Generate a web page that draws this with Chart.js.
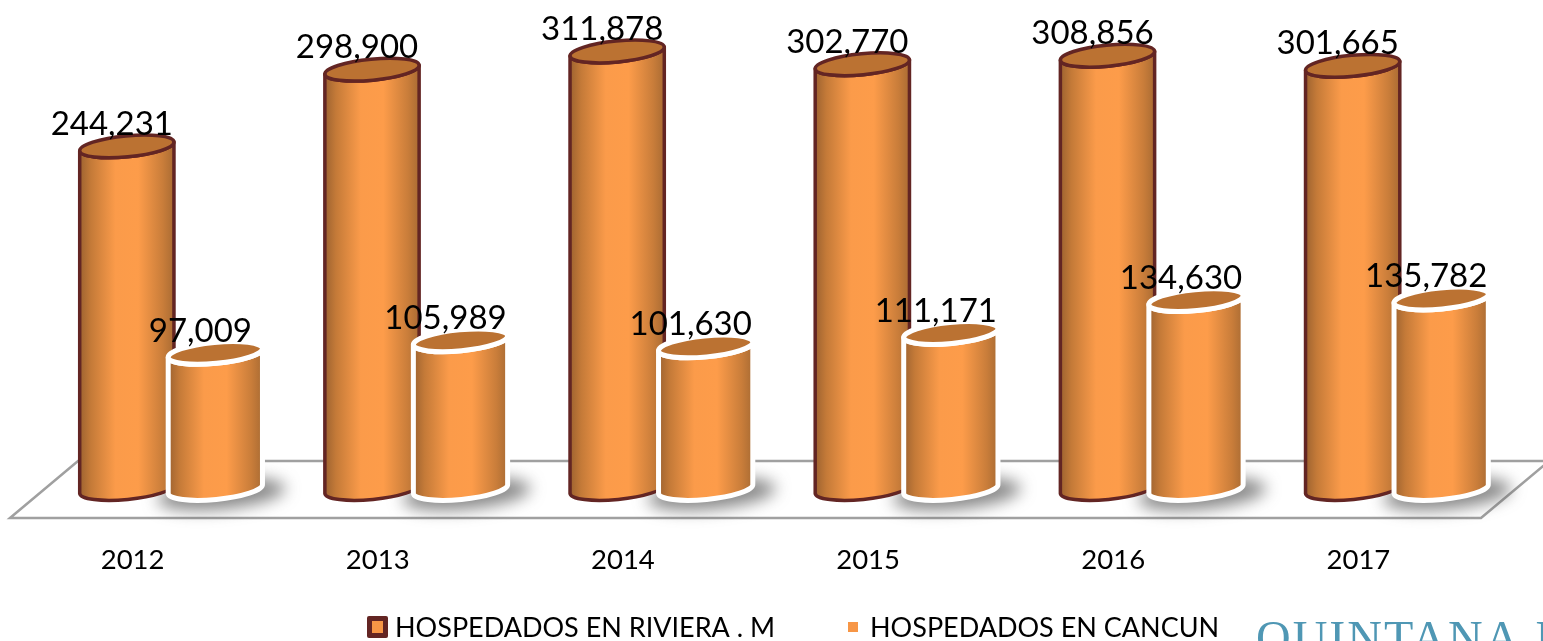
<!DOCTYPE html>
<html>
<head>
<meta charset="utf-8">
<style>html,body{margin:0;padding:0;background:#fff;overflow:hidden}#wrap{width:1543px;height:641px}</style>
<script src="https://cdn.jsdelivr.net/npm/chart.js@4"></script>
</head>
<body>
<div id="wrap"><canvas id="c" width="1543" height="641"></canvas></div>
<script>
const categories = ['2012','2013','2014','2015','2016','2017'];
const rivieraLabel = 'HOSPEDADOS EN RIVIERA . M';
const cancunLabel = 'HOSPEDADOS EN CANCUN';
const rivieraValues = [244231,298900,311878,302770,308856,301665];
const cancunValues = [97009,105989,101630,111171,134630,135782];

const FONT = 'Lato, "Open Sans", sans-serif';
const floorDepth = {x:68, y:-57};
const barDepth = {x:38.5, y:-29};
const TILT = -5.5*Math.PI/180;

function cylinder(ctx, cx, topY, baseY, rx, ry, stroke, lw){
  const cos=Math.cos(TILT), sin=Math.sin(TILT);
  const dx=rx*cos, dy=rx*sin;
  const g=ctx.createLinearGradient(cx-rx,0,cx+rx,0);
  g.addColorStop(0,'#9c6230');
  g.addColorStop(0.12,'#c47a38');
  g.addColorStop(0.38,'#fb9b4a');
  g.addColorStop(0.62,'#fd9c4a');
  g.addColorStop(0.88,'#c97d3a');
  g.addColorStop(1,'#a96b33');
  ctx.beginPath();
  ctx.moveTo(cx-dx,topY-dy);
  ctx.lineTo(cx-dx,baseY-dy);
  ctx.ellipse(cx,baseY,rx,ry,TILT,Math.PI,0,true);
  ctx.lineTo(cx+dx,topY+dy);
  ctx.ellipse(cx,topY,rx,ry,TILT,0,Math.PI,false);
  ctx.closePath();
  ctx.fillStyle=g; ctx.fill();
  ctx.lineWidth=lw; ctx.strokeStyle=stroke; ctx.lineJoin='round'; ctx.stroke();
  ctx.beginPath();
  ctx.ellipse(cx,topY,rx,ry,TILT,0,Math.PI*2);
  ctx.fillStyle='#bb7232'; ctx.fill();
  ctx.lineWidth=lw; ctx.strokeStyle=stroke; ctx.stroke();
}

const cylinderPlugin = {
  id:'cylinders',
  beforeDatasetsDraw(chart){
    const {ctx,chartArea:a,scales:{y}}=chart;
    const y0=y.getPixelForValue(0);
    ctx.save();
    ctx.beginPath();
    ctx.moveTo(a.left,y0);
    ctx.lineTo(a.left+floorDepth.x,y0+floorDepth.y);
    ctx.lineTo(a.right+floorDepth.x,y0+floorDepth.y);
    ctx.lineTo(a.right,y0);
    ctx.closePath();
    ctx.fillStyle='#fff'; ctx.fill();
    ctx.lineWidth=2.5; ctx.strokeStyle='#a0a0a0'; ctx.stroke();
    ctx.restore();
  },
  afterDatasetsDraw(chart){
    const {ctx}=chart;
    ctx.save();
    // soft floor shadow cast by the front row
    chart.getDatasetMeta(1).data.forEach(b=>{
      ctx.save();
      ctx.filter='blur(8px)';
      ctx.fillStyle='rgba(80,80,80,0.68)';
      ctx.beginPath();
      ctx.ellipse(b.x+barDepth.x+6,b.base+barDepth.y+5,b.width/2+20,15,TILT,0,Math.PI*2);
      ctx.fill();
      ctx.restore();
    });
    chart.data.datasets.forEach((ds,i)=>{
      chart.getDatasetMeta(i).data.forEach(b=>{
        cylinder(ctx,b.x+barDepth.x,b.y+barDepth.y,b.base+barDepth.y,b.width*0.535,10.5,ds.cylStroke,ds.cylWidth);
      });
    });
    ctx.font='33px '+FONT;
    ctx.fillStyle='#000'; ctx.textAlign='center'; ctx.textBaseline='middle';
    chart.data.datasets.forEach((ds,i)=>{
      chart.getDatasetMeta(i).data.forEach((b,j)=>{
        ctx.fillText(ds.data[j].toLocaleString('en-US'),b.x+barDepth.x-15,b.y+barDepth.y-22);
      });
    });
    ctx.restore();
  },
  afterDraw(chart){
    const {ctx}=chart;
    ctx.save();
    ctx.textBaseline='middle'; ctx.textAlign='left'; ctx.fillStyle='#000';
    ctx.font='27px '+FONT;
    // legend
    ctx.fillStyle='#632523';
    ctx.beginPath(); ctx.roundRect(367,616,21,22,2); ctx.fill();
    ctx.fillStyle='#f79646'; ctx.fillRect(372,621,11,12);
    ctx.fillRect(848,622,10,10);
    ctx.fillStyle='#000';
    ctx.fillText(chart.data.datasets[0].label,395,628);
    ctx.fillText(chart.data.datasets[1].label,870,628);
    // clipped logo wordmark
    ctx.font='48px "Liberation Serif", serif';
    ctx.fillStyle='#4f97b4'; ctx.letterSpacing='2px';
    ctx.textBaseline='alphabetic';
    ctx.fillText('QUINTANA ROO',1256,654);
    ctx.restore();
  }
};

new Chart(document.getElementById('c'),{
  type:'bar',
  data:{labels:categories,datasets:[
    {label:rivieraLabel,data:rivieraValues,backgroundColor:'rgba(0,0,0,0)',cylStroke:'#632523',cylWidth:3.5},
    {label:cancunLabel,data:cancunValues,backgroundColor:'rgba(0,0,0,0)',cylStroke:'#ffffff',cylWidth:5}
  ]},
  options:{
    responsive:false,animation:false,
    layout:{padding:{left:10,right:62,top:27,bottom:38}},
    datasets:{bar:{categoryPercentage:0.722,barPercentage:1}},
    plugins:{legend:{display:false},tooltip:{enabled:false},title:{display:false}},
    scales:{
      x:{grid:{display:false,drawTicks:false,tickLength:0},border:{display:false},
         ticks:{padding:26,color:'#000',font:{family:FONT,size:27.5},maxRotation:0}},
      y:{display:false,min:0,max:350000}
    }
  },
  plugins:[cylinderPlugin]
});
</script>
</body>
</html>
